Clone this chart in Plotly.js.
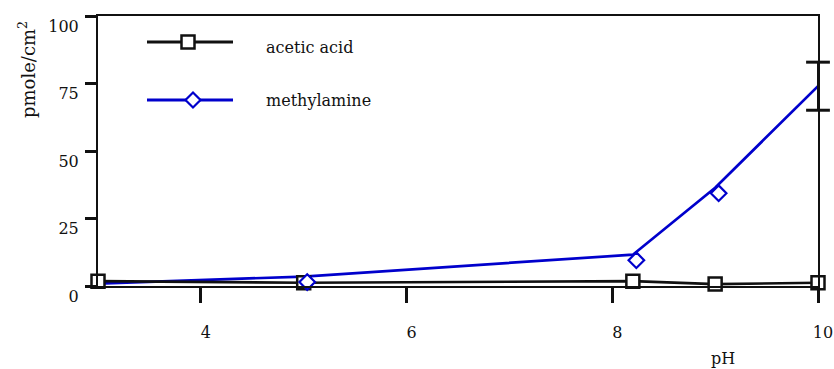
<!DOCTYPE html>
<html>
<head>
<meta charset="utf-8">
<script src="https://cdn.plot.ly/plotly-3.0.1.min.js"></script>
<style>
  html, body { margin: 0; padding: 0; background: #fff; }
  #chart { width: 834px; height: 369px; }
</style>
</head>
<body>
<div id="chart"></div>
<script>
// pH values sampled
const phValues = [3, 5, 8.2, 9, 10];
// surface density, pmole/cm^2
const aceticAcid = [1.8, 1.2, 1.8, 0.7, 1.2];
const methylamine = [0.9, 3.5, 11.6, 36.4, 74];
// error estimate for the pH 10 methylamine point
const methylamineErrAt10 = 8.9;

const xTicks = [4, 6, 8, 10];
const yTicks = [0, 25, 50, 75, 100];

const seriesNames = ['acetic acid', 'methylamine'];
const axisTitles = { x: 'pH', y: 'pmole/cm<sup>2</sup>' };

const FONT = 'DejaVu Serif';
const INK = '#111';
const BLUE = '#0000cc';

const W = 834, H = 369;
const M = { l: 98, r: 16, t: 16, b: 83 };
const plotW = W - M.l - M.r, plotH = H - M.t - M.b;
const xRange = [3, 10], yRange = [0, 100];
const pxPerX = plotW / (xRange[1] - xRange[0]);
const pxPerY = plotH / (yRange[1] - yRange[0]);

// diamond glyphs sit a little right of and below their line vertices
const dOff = { x: 3.5, y: 5.5 };

const last = phValues.length - 1;
const errX = [phValues[last], phValues[last]];
const errY = [methylamine[last] - methylamineErrAt10, methylamine[last] + methylamineErrAt10];

const traces = [
  {
    x: phValues, y: methylamine, name: seriesNames[1],
    mode: 'lines', line: { color: BLUE, width: 2.7 },
    cliponaxis: false, showlegend: false
  },
  {
    // error bar: stem plus caps
    x: errX, y: errY, name: seriesNames[1] + ' error',
    mode: 'lines+markers', line: { color: INK, width: 2 },
    marker: { symbol: 'line-ew-open', size: 17, color: INK, line: { color: INK, width: 3 } },
    cliponaxis: false, showlegend: false
  },
  {
    x: phValues, y: methylamine, name: seriesNames[1],
    xaxis: 'x2', yaxis: 'y2',
    mode: 'markers',
    marker: { symbol: 'diamond', size: 12, color: '#fff', line: { color: BLUE, width: 2.2 } },
    cliponaxis: false, showlegend: false
  },
  {
    x: phValues, y: aceticAcid, name: seriesNames[0],
    mode: 'lines+markers', line: { color: INK, width: 2.6 },
    marker: { symbol: 'square', size: 13, color: '#fff', line: { color: INK, width: 2.5 } },
    cliponaxis: false, showlegend: false
  }
];

const px2paperX = p => (p - M.l) / plotW;
const px2paperY = p => (H - M.b - p) / plotH;

const legendRows = [
  { y: 42, textY: 48, color: INK, marker: 'square', mx: 188, name: seriesNames[0] },
  { y: 100, textY: 101, color: BLUE, marker: 'diamond', mx: 193, name: seriesNames[1] }
];

const shapes = [];
const annotations = [];
legendRows.forEach(r => {
  shapes.push({
    type: 'line', xref: 'paper', yref: 'paper',
    x0: px2paperX(147), x1: px2paperX(233), y0: px2paperY(r.y), y1: px2paperY(r.y),
    line: { color: r.color, width: 3 }
  });
  if (r.marker === 'square') {
    shapes.push({
      type: 'rect', xref: 'paper', yref: 'paper',
      xsizemode: 'pixel', ysizemode: 'pixel',
      xanchor: px2paperX(r.mx), yanchor: px2paperY(r.y),
      x0: -6.5, x1: 6.5, y0: -6.5, y1: 6.5,
      fillcolor: '#fff', line: { color: INK, width: 2.5 }
    });
  } else {
    shapes.push({
      type: 'path', xref: 'paper', yref: 'paper',
      xsizemode: 'pixel', ysizemode: 'pixel',
      xanchor: px2paperX(r.mx), yanchor: px2paperY(r.y),
      path: 'M 0 7.5 L 7.5 0 L 0 -7.5 L -7.5 0 Z',
      fillcolor: '#fff', line: { color: BLUE, width: 2.2 }
    });
  }
  annotations.push({
    xref: 'paper', yref: 'paper', x: px2paperX(264), y: px2paperY(r.textY),
    xanchor: 'left', yanchor: 'middle', showarrow: false,
    text: r.name, font: { family: FONT, size: 16, color: INK }
  });
});

annotations.push({
  xref: 'paper', yref: 'paper', x: px2paperX(27), y: px2paperY(70),
  xanchor: 'center', yanchor: 'middle', textangle: -90, showarrow: false,
  text: axisTitles.y, font: { family: FONT, size: 18, color: INK }
});
annotations.push({
  xref: 'paper', yref: 'paper', x: px2paperX(723), y: px2paperY(358),
  xanchor: 'center', yanchor: 'middle', showarrow: false,
  text: axisTitles.x, font: { family: FONT, size: 16, color: INK }
});

const axisCommon = {
  showgrid: false, zeroline: false, showline: true, linecolor: INK, linewidth: 2,
  mirror: true, ticks: 'outside', tickcolor: INK, tickwidth: 3,
  tickfont: { family: FONT, size: 16, color: INK }, fixedrange: true
};

const layout = {
  width: W, height: H, margin: M,
  paper_bgcolor: '#fff', plot_bgcolor: '#fff',
  showlegend: false,
  font: { family: FONT, color: INK },
  xaxis: Object.assign({}, axisCommon, {
    range: xRange, tickmode: 'array', tickvals: xTicks, ticktext: xTicks.map(String),
    ticklen: 15, ticklabelstandoff: 16, ticklabelshift: 5
  }),
  yaxis: Object.assign({}, axisCommon, {
    range: yRange, tickmode: 'array', tickvals: yTicks, ticktext: yTicks.map(String),
    ticklen: 11, ticklabelstandoff: 3, ticklabelshift: 10
  }),
  xaxis2: {
    overlaying: 'x', visible: false, fixedrange: true,
    range: [xRange[0] - dOff.x / pxPerX, xRange[1] - dOff.x / pxPerX]
  },
  yaxis2: {
    overlaying: 'y', visible: false, fixedrange: true,
    range: [yRange[0] + dOff.y / pxPerY, yRange[1] + dOff.y / pxPerY]
  },
  shapes: shapes,
  annotations: annotations
};

Plotly.newPlot('chart', traces, layout, { displayModeBar: false, staticPlot: true });
</script>
</body>
</html>
